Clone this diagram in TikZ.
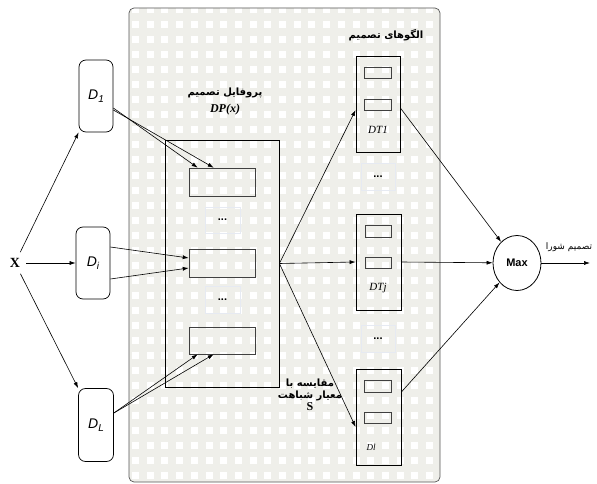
\documentclass[tikz,border=0pt]{standalone}
\usepackage{fontspec}
\setmainfont{Liberation Serif}
\setsansfont{Liberation Sans}
\newfontfamily\fa[Script=Arabic]{DejaVu Sans}
\TeXXeTstate=1
\usetikzlibrary{arrows.meta,shapes.geometric,calc}
\definecolor{bggray}{HTML}{EFEFEA}
\definecolor{dotline}{HTML}{E6EAF2}
\definecolor{frame}{HTML}{555555}
\begin{document}
\begin{tikzpicture}[x=1pt,y=-1pt,
  arr/.style={-{Latex[length=6pt,width=4pt]},line width=0.6pt},
  ln/.style={line width=0.6pt},
  dbox/.style={draw,rounded corners=7pt,minimum width=34pt,minimum height=72pt,inner sep=0pt,line width=0.7pt,font=\sffamily\itshape\fontsize{14}{14}\selectfont},
  slot/.style={draw=black!75,line width=0.6pt,minimum width=66pt,minimum height=28pt,inner sep=0pt},
  mini/.style={draw=black!75,line width=0.6pt,minimum width=27pt,minimum height=11pt,inner sep=0pt},
  dotbox/.style={draw=dotline,line width=0.5pt,minimum width=35pt,minimum height=26pt,inner sep=0pt,font=\sffamily\bfseries\fontsize{11}{11}\selectfont},
  tbox/.style={draw,line width=0.8pt,minimum width=45pt,minimum height=96pt,inner sep=0pt},
  tlab/.style={font=\itshape\fontsize{11}{11}\selectfont,inner sep=0pt},
  falab/.style={font=\fa\bfseries\fontsize{10}{11}\selectfont,inner sep=1pt,align=center}]
\useasboundingbox (0,0) rectangle (597,484);
% background panel
\fill[bggray,rounded corners=5pt] (129,8) rectangle (440,482);
\begin{scope}
\clip[rounded corners=5pt] (129,8) rectangle (440,482);
\foreach \i in {0,...,20}{
  \foreach \j in {0,...,31}{
    \fill[white] ({132+14.7*\i},{6.5+15*\j}) rectangle ++(7,7);
  }}
\end{scope}
\draw[frame,line width=0.7pt,rounded corners=5pt] (129,8) rectangle (440,482);

% input and classifiers
\node[font=\bfseries\fontsize{14}{14}\selectfont,inner sep=6pt] (X) at (15,263) {X};
\node[dbox] (D1) at (96,96) {D\raisebox{-0.4ex}{\fontsize{10}{10}\selectfont 1}};
\node[dbox] (Di) at (93,263) {D\raisebox{-0.4ex}{\fontsize{10}{10}\selectfont i}};
\node[dbox,minimum width=35pt,minimum height=73pt] (DL) at (96,425) {D\raisebox{-0.4ex}{\fontsize{10}{10}\selectfont L}};

% decision profile
\node[draw,line width=0.8pt,minimum width=114pt,minimum height=247pt,inner sep=0pt] (DP) at (222,263.5) {};
\node[slot] (b1) at (222,182) {};
\node[slot] (b2) at (222,263) {};
\node[slot,minimum height=27pt] (b3) at (222,340.5) {};
\node[dotbox] (p1) at (222.5,220) {...};
\node[dotbox,minimum height=27pt] (p2) at (222.5,299.5) {...};
\node[falab] (lp) at (225,93) {\beginR پروفایل تصمیم\endR};
\node[font=\bfseries\itshape\fontsize{12}{12}\selectfont,inner sep=0pt] (lx) at (225,110) {DP(x)};

% decision templates
\node[tbox,minimum width=44pt] (T1) at (378,104) {};
\node[mini] (m11) at (377.5,72.5) {};
\node[mini] (m12) at (377.5,104.5) {};
\node[tlab] (t1) at (378,130) {DT1};
\node[dotbox,minimum width=34pt,minimum height=27pt] (p3) at (378,176.5) {...};
\node[tbox] (Tj) at (378.5,262) {};
\node[mini,minimum width=26pt,minimum height=12pt] (mj1) at (378,231) {};
\node[mini,minimum width=26pt] (mj2) at (378,262.5) {};
\node[tlab] (tj) at (378,288) {DTj};
\node[dotbox,minimum width=34pt,minimum height=27pt] (p4) at (378,338.5) {...};
\node[tbox] (Tl) at (378.5,417) {};
\node[mini,minimum height=12pt] (ml1) at (377.5,386) {};
\node[mini] (ml2) at (377.5,417.5) {};
\node[tlab,font=\itshape\fontsize{9}{9}\selectfont] (tl) at (371,447) {Dl};
\node[falab] (lt) at (386,35) {\beginR الگوهای تصمیم\endR};
\node[falab] (ls) at (310,395) {\beginR مقایسه با\endR\\[1pt]\beginR معیار شباهت\endR\\[1pt]{\normalfont\bfseries\fontsize{12}{12}\selectfont S}};

% combiner
\node[draw,ellipse,line width=0.8pt,minimum width=48pt,minimum height=55pt,inner sep=0pt,font=\sffamily\bfseries\fontsize{11}{11}\selectfont] (Max) at (517,263) {Max};
\coordinate (out) at (590,263);
\node[falab,font=\fa\fontsize{9}{10}\selectfont] (lo) at (569,247) {\beginR تصمیم شورا\endR};

% connectors
\draw[arr] (X) -- (D1.south west);
\draw[arr] (X) -- (Di.west);
\draw[arr] (X) -- (DL.north west);

\draw[arr] ($(D1.east)+(0,12)$) -- ($(b1.north west)+(9,0)$);
\draw[arr] ($(D1.east)+(0,14)$) -- ($(b1.north west)+(25,0)$);
\draw[arr] ($(Di.east)+(0,-16)$) -- ($(b2.west)+(0,-5)$);
\draw[arr] ($(Di.east)+(0,16)$) -- ($(b2.west)+(0,5)$);
\draw[arr] ($(DL.east)+(0,-12)$) -- ($(b3.south west)+(9,0)$);
\draw[arr] ($(DL.east)+(0,-12)$) -- ($(b3.south west)+(25,0)$);

\draw[arr] (DP.east) -- ($(T1.west)+(0,6)$);
\draw[arr] (DP.east) -- (Tj.west);
\draw[arr] (DP.east) -- ($(Tl.west)+(0,10)$);

\draw[arr] ($(T1.east)+(0,4)$) -- (Max);
\draw[arr] (Tj.east) -- (Max);
\draw[arr] ($(Tl.east)+(0,-25)$) -- (Max);
\draw[arr] (Max.east) -- (out);
\end{tikzpicture}
\end{document}
